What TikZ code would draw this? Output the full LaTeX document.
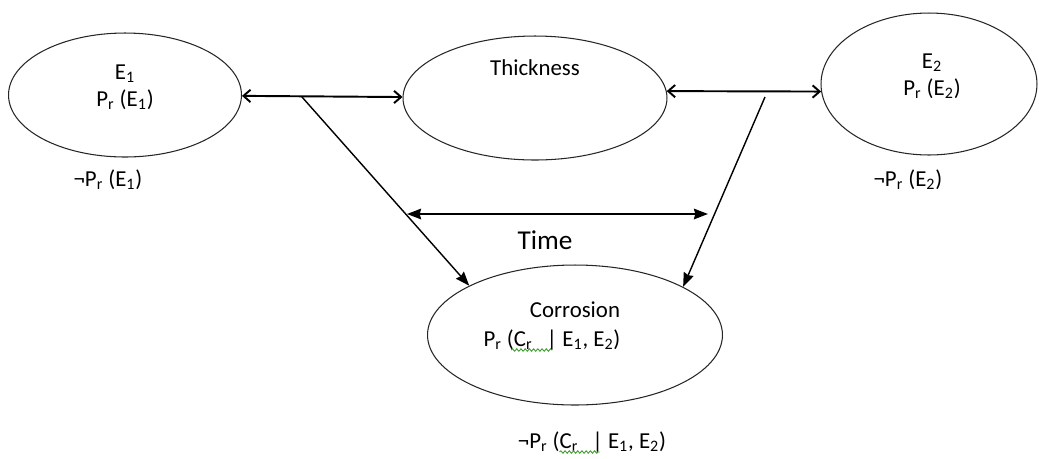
\documentclass[tikz,border=0pt]{standalone}
\usepackage{fontspec}
\setmainfont{Carlito}
\usepackage{xcolor}
\definecolor{spell}{HTML}{3C9A2A}
\usetikzlibrary{arrows.meta,shapes.geometric,calc,decorations.pathmorphing}

\begin{document}
\begin{tikzpicture}[x=0.02cm, y=-0.02cm,
    every node/.style={font=\fontsize{13}{15.5}\selectfont, inner sep=0pt},
    state/.style={draw=black!85, ellipse, line width=0.6pt},
    lbl/.style={align=center},
    big/.style={font=\fontsize{15.5}{18}\selectfont},
    dbl/.style={{Straight Barb[length=4pt,width=7pt]}-{Straight Barb[length=4pt,width=7pt]},
                line width=1.1pt},
    arr/.style={-{Stealth[length=8pt,width=6pt,inset=0.8pt]}, line width=0.8pt},
    tarr/.style={{Stealth[length=8pt,width=6pt,inset=0.8pt]}-{Stealth[length=8pt,width=6pt,inset=0.8pt]},
                 line width=1.1pt},
    squig/.style={draw=spell, line width=0.5pt,
                  decorate, decoration={snake, amplitude=0.7pt, segment length=2.4pt}}]
  \useasboundingbox (0,0) rectangle (1039,458);
  % events
  \node[state, minimum width=4.66cm, minimum height=2.48cm] (e1)    at (125,95)  {};
  \node[state, minimum width=5.28cm, minimum height=2.48cm] (thick) at (535,98)  {};
  \node[state, minimum width=4.32cm, minimum height=2.84cm] (e2)    at (929,84)  {};
  \node[state, minimum width=5.90cm, minimum height=2.80cm] (corr)  at (575,335) {};
  % texts
  \node[lbl] (e1txt)    at (125,87)  {E\textsubscript{1}\\P\textsubscript{r} (E\textsubscript{1})};
  \node[lbl] (e1neg)    at (108,180) {¬P\textsubscript{r} (E\textsubscript{1})};
  \node[lbl] (thicktxt) at (535,68)  {Thickness};
  \node[lbl] (e2txt)    at (932,76)  {E\textsubscript{2}\\P\textsubscript{r} (E\textsubscript{2})};
  \node[lbl] (e2neg)    at (908,180) {¬P\textsubscript{r} (E\textsubscript{2})};
  \node[lbl] (corrtxt)  at (575,310) {Corrosion};
  \node[lbl] (corrprob) at (552,340) {P\textsubscript{r} (C\textsubscript{r}\ \ \,| E\textsubscript{1}, E\textsubscript{2})};
  \node[lbl] (corrneg)  at (592,442) {¬P\textsubscript{r} (C\textsubscript{r}\ \ \,| E\textsubscript{1}, E\textsubscript{2})};
  \node[lbl, big] (timetxt) at (545,240) {Time};
  % spell-check marks
  \draw[squig] ($(corrprob.west)+(28,10)$) -- +(41,0);
  \draw[squig] ($(corrneg.west)+(42,10)$) -- +(40,0);
  % branch points
  \coordinate (b1) at (302,97);
  \coordinate (b2) at (765,97);
  \coordinate (t1) at (407,214);
  \coordinate (t2) at (708,214);
  % connectors
  \draw[dbl] (e1) -- (thick);
  \draw[dbl] (thick.3) -- (e2.184);
  \draw[arr] (b1) -- (corr.155);
  \draw[arr] (b2) -- (corr.24);
  \draw[tarr] (t1) -- (t2);
\end{tikzpicture}
\end{document}
